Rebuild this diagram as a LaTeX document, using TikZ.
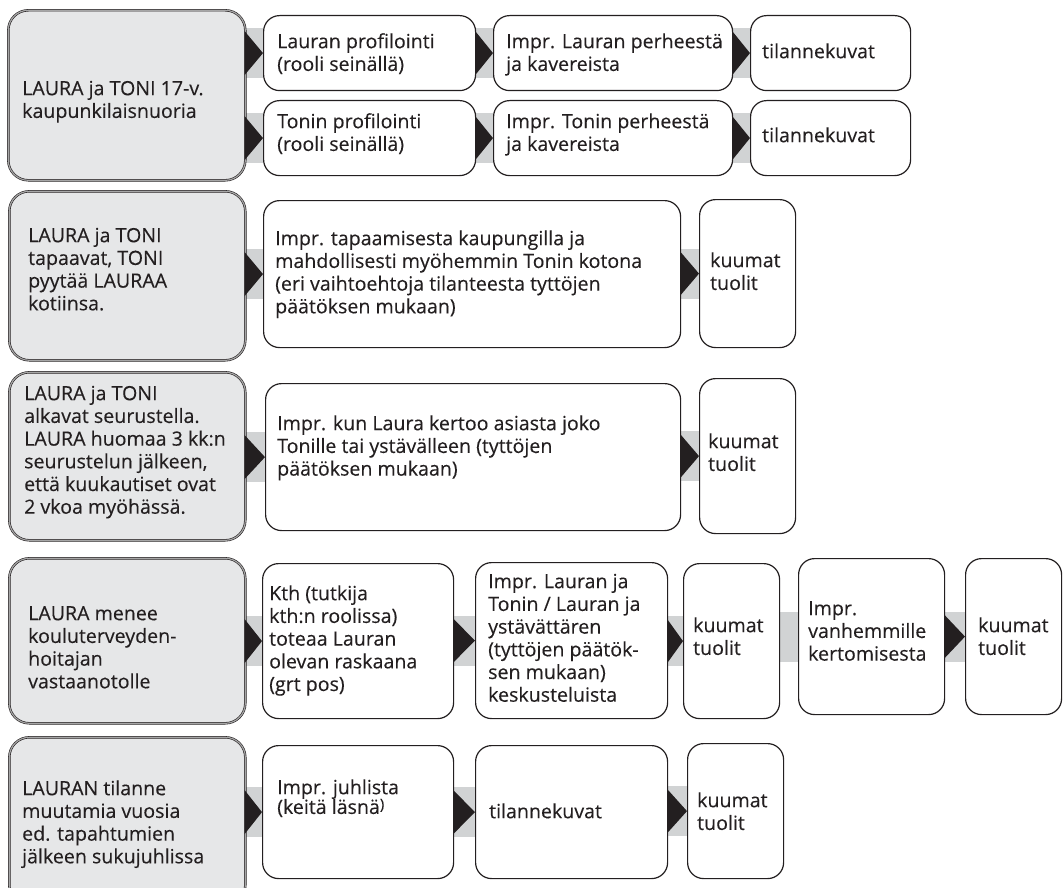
\documentclass[tikz,border=0pt]{standalone}
\usepackage{fontspec}
\setmainfont{Open Sans}[FakeBold=0.2]
\usetikzlibrary{calc}
\pgfdeclarelayer{background}
\pgfsetlayers{background,main}
\definecolor{ink}{HTML}{231F20}
\definecolor{grayfill}{HTML}{E6E7E8}
\definecolor{bandgray}{HTML}{D1D3D4}
\tikzset{
  boxbase/.style={anchor=north west, inner sep=0pt},
  gbox/.style={boxbase, fill=grayfill, draw=ink, line width=0.6pt, double=black!35, double distance=1.2pt, rounded corners=20pt},
  wbox/.style={boxbase, fill=white, draw=ink, line width=1.2pt, rounded corners=16pt},
  txt/.style={anchor=north west, yshift=15.89pt, align=left, inner sep=0pt, text=ink, font=\fontsize{19.6}{22.7}\selectfont},
}
% style, name, x, y, w, h, text x, first baseline y, text
\newcommand\bx[9]{%
  \node[#1, minimum width=#5, minimum height=#6] (#2) at (#3,#4) {};
  \node[txt] (#2t) at (#7,#8) {\strut #9};}
\newcommand\lnk[2]{%
  \begin{pgfonlayer}{background}
  \fill[bandgray] ($(#1.east |- #2.west)+(-3,25)$) rectangle ($(#2.west)+(3,-25)$);
  \end{pgfonlayer}
  \fill[ink] ($(#1.east |- #2.west)+(-1,22)$) -- (#2.west) -- ($(#1.east |- #2.west)+(-1,-22)$) -- cycle;}
\newcommand\bnd[2]{%
  \begin{pgfonlayer}{background}
  \fill[bandgray] ($(#1.east |- #2.west)+(-3,25)$) rectangle ($(#2.west)+(3,-25)$);
  \end{pgfonlayer}}
\begin{document}
\begin{tikzpicture}[x=1pt,y=-1pt]
\useasboundingbox (0,0) rectangle (1063,888);
\begin{pgfonlayer}{background}
\fill[white] (0,0) rectangle (1063,888);
\end{pgfonlayer}
% row 1
\bx{gbox}{g1}{8}{10}{237}{170}{22}{95}{LAURA ja TONI 17-v.\\kaupunkilaisnuoria}
\bx{wbox}{a1}{263}{15}{212}{75}{277}{48}{Lauran profilointi\\(rooli seinällä)}
\bx{wbox}{a2}{493}{15}{239}{75}{506}{48}{Impr. Lauran perheestä\\ja kavereista}
\bx{wbox}{a3}{750}{15}{160}{75}{762}{58}{tilannekuvat}
\bx{wbox}{b1}{263}{100}{212}{75}{277}{128}{Tonin profilointi\\(rooli seinällä)}
\bx{wbox}{b2}{493}{100}{239}{75}{506}{128}{Impr. Tonin perheestä\\ja kavereista}
\bx{wbox}{b3}{750}{100}{160}{75}{762}{142}{tilannekuvat}
% row 2
\bx{gbox}{g2}{9}{191}{236}{169}{28}{242}{LAURA ja TONI\\tapaavat, TONI\\pyytää LAURAA\\kotiinsa.}
\bx{wbox}{c1}{263}{200}{417}{147}{275}{245}{Impr. tapaamisesta kaupungilla ja\\mahdollisesti myöhemmin Tonin kotona\\(eri vaihtoehtoja tilanteesta tyttöjen\\päätöksen mukaan)}
\bx{wbox}{c2}{699}{199}{96}{148}{710}{267}{kuumat\\tuolit}
% row 3
\bx{gbox}{g3}{9}{372}{236}{168}{24}{400}{LAURA ja TONI\\alkavat seurustella.\\LAURA huomaa 3 kk:n\\seurustelun jälkeen,\\että kuukautiset ovat\\2 vkoa myöhässä.}
\bx{wbox}{d1}{265}{383}{415}{147}{277}{430}{Impr. kun Laura kertoo asiasta joko\\Tonille tai ystävälleen (tyttöjen\\päätöksen mukaan)}
\bx{wbox}{d2}{699}{378}{96}{155}{708}{448}{kuumat\\tuolit}
% row 4
\bx{gbox}{g4}{9}{558}{236}{165}{28}{620}{LAURA menee\\kouluterveyden-\\hoitajan\\vastaanotolle}
\bx{wbox}{e1}{262}{563}{191}{155}{269}{600}{Kth (tutkija\\kth:n roolissa)\\toteaa Lauran\\olevan raskaana\\(grt pos)}
\bx{wbox}{e2}{475}{562}{192}{156}{488}{588}{Impr. Lauran ja\\Tonin / Lauran ja\\ystävättären\\(tyttöjen päätök-\\sen mukaan)\\keskusteluista}
\bx{wbox}{e3}{683}{563}{96}{155}{693}{632}{kuumat\\tuolit}
\bx{wbox}{e4}{798}{558}{146}{156}{808}{615}{Impr.\\vanhemmille\\kertomisesta}
\bx{wbox}{e5}{965}{558}{96}{156}{978}{632}{kuumat\\tuolit}
% row 5
\bx{gbox}{g5}{9}{737}{236}{168}{22}{795}{LAURAN tilanne\\muutamia vuosia\\ed. tapahtumien\\jälkeen sukujuhlissa}
\bx{wbox}{f1}{262}{745}{191}{133}{277}{794}{Impr. juhlista\\[-3pt](keitä läsnä\raisebox{4.4pt}{\fontsize{15}{15}\selectfont)}}
\bx{wbox}{f2}{475}{745}{192}{133}{489}{818}{tilannekuvat}
\bx{wbox}{f3}{687}{743}{96}{135}{697}{807}{kuumat\\tuolit}
% connectors
\lnk{g1}{a1}\lnk{a1}{a2}\lnk{a2}{a3}
\lnk{g1}{b1}\lnk{b1}{b2}\lnk{b2}{b3}
\lnk{g2}{c1}\lnk{c1}{c2}
\lnk{g3}{d1}\lnk{d1}{d2}
\lnk{g4}{e1}\lnk{e1}{e2}\lnk{e2}{e3}\bnd{e3}{e4}\lnk{e4}{e5}
\lnk{g5}{f1}\lnk{f1}{f2}\lnk{f2}{f3}
\end{tikzpicture}
\end{document}
